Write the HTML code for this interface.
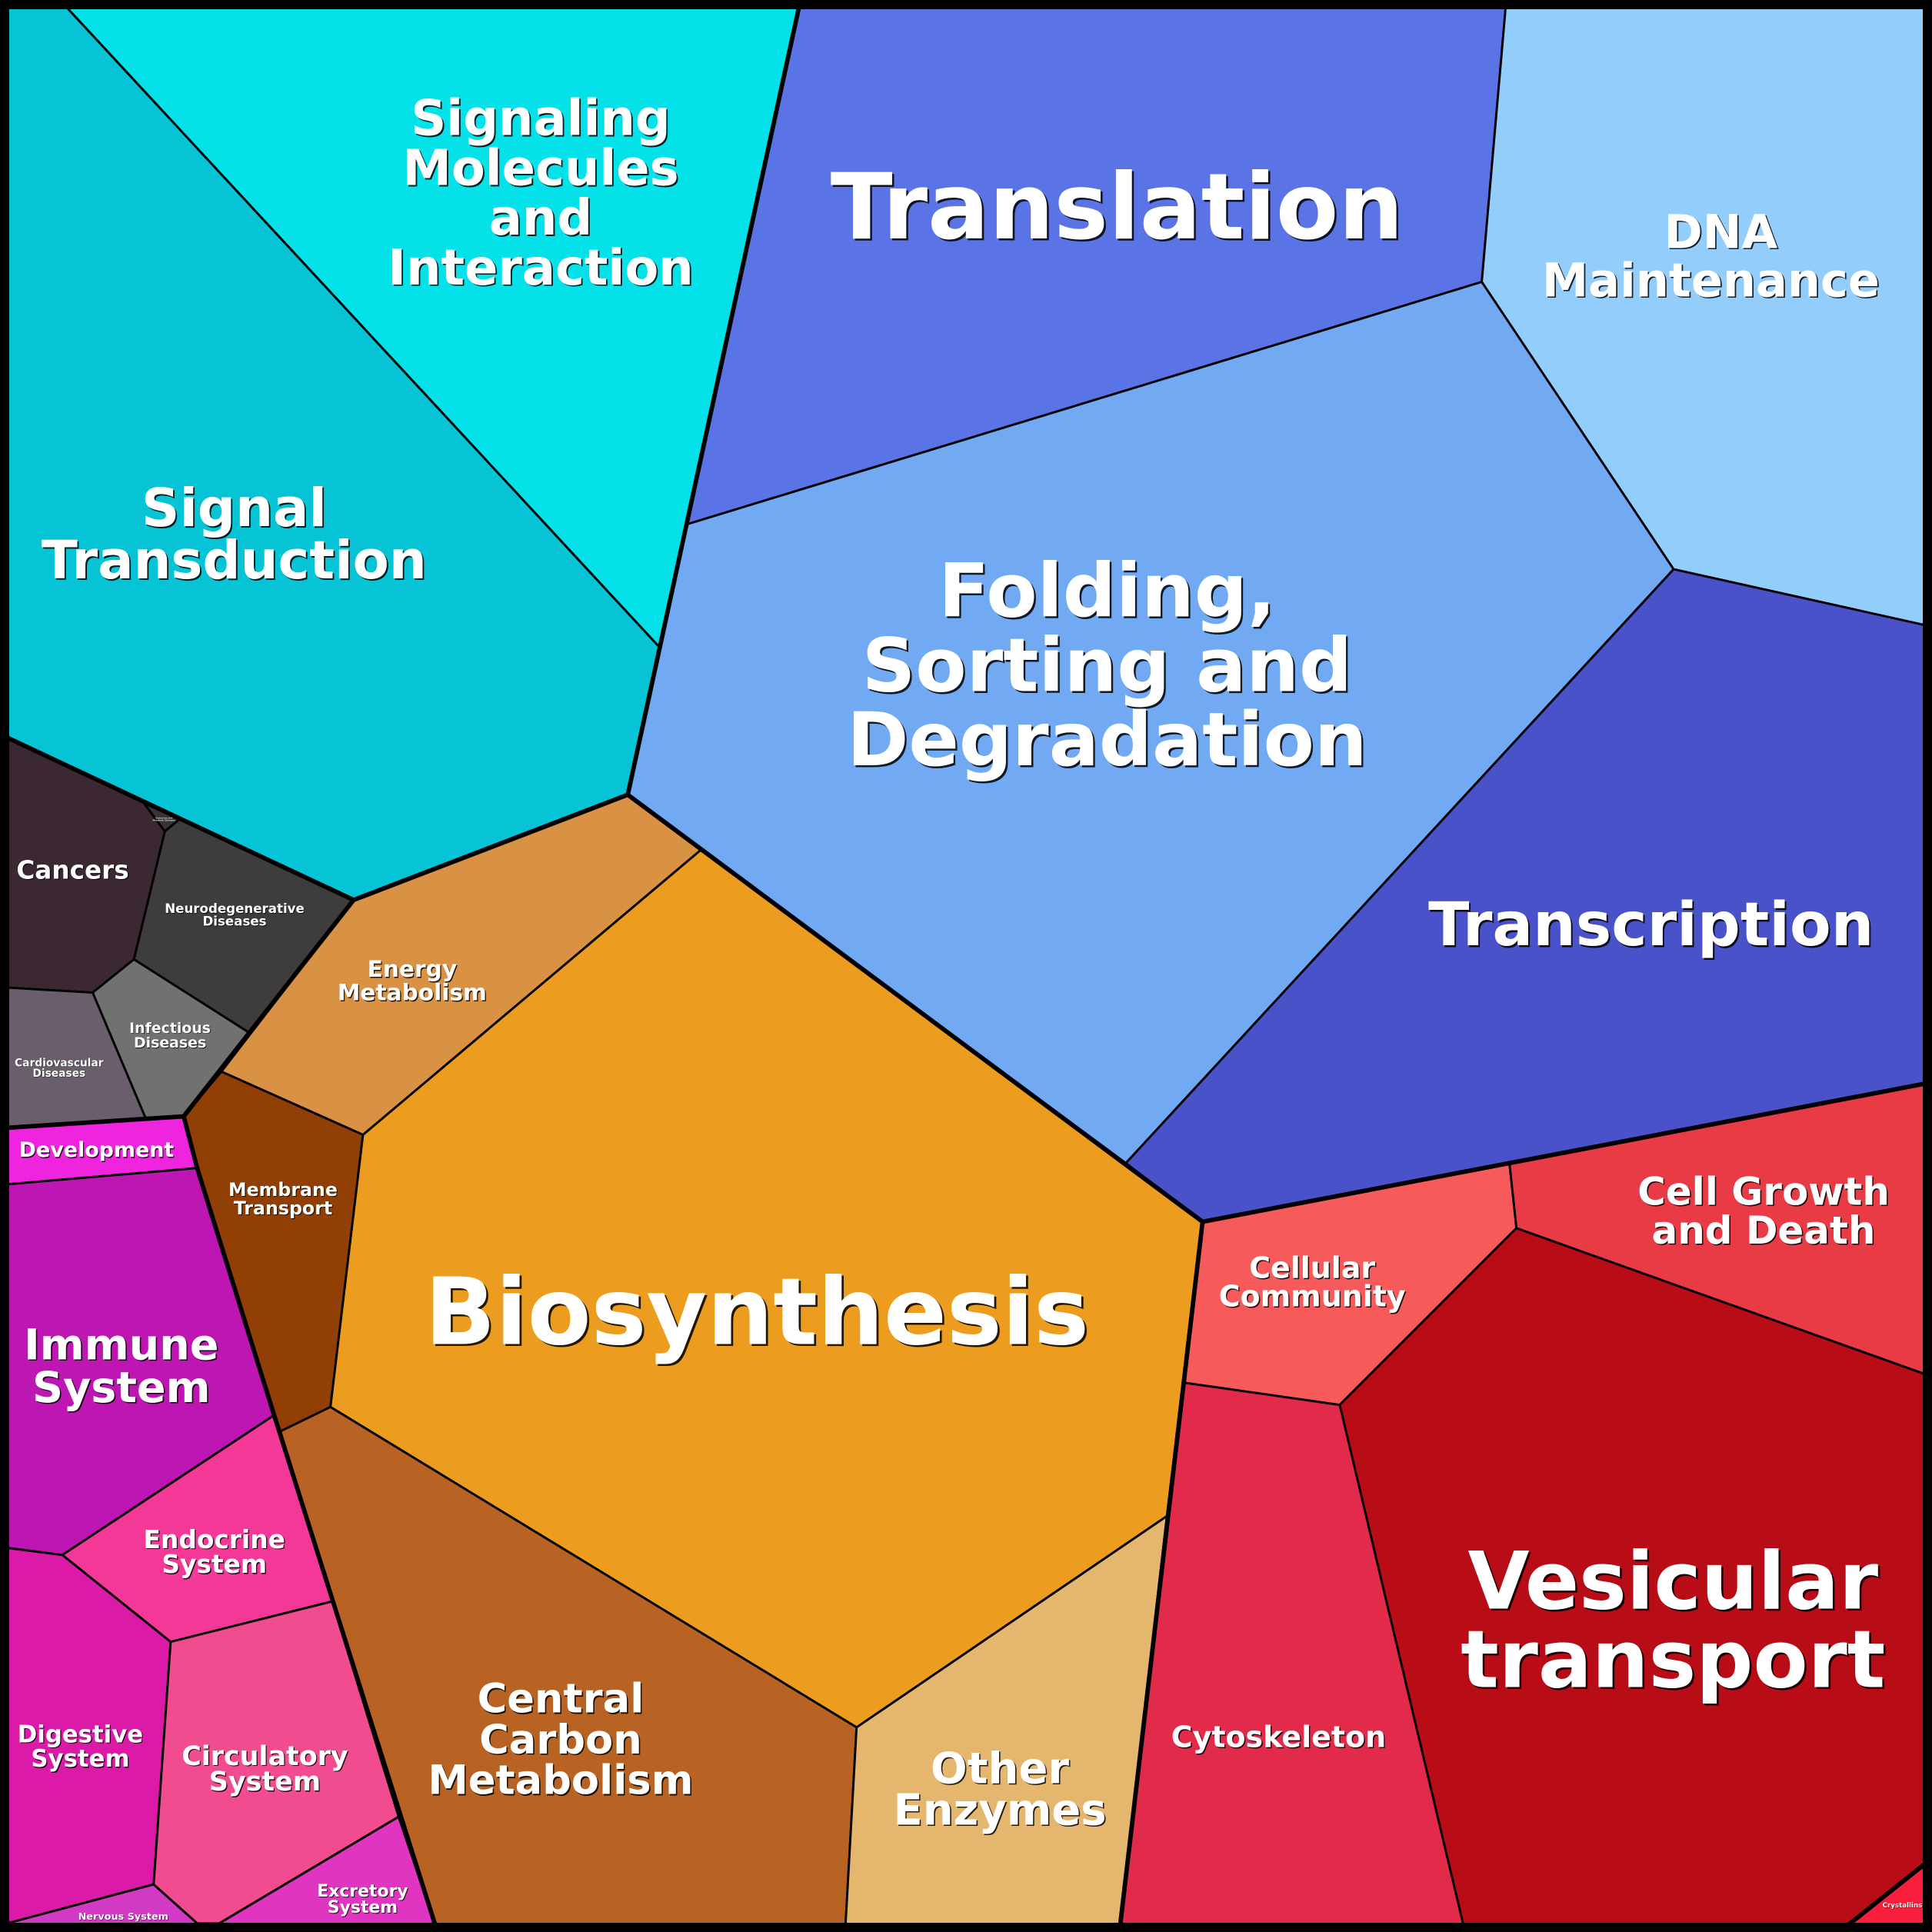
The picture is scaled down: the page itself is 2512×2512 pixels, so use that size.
<!DOCTYPE html>
<html><head><meta charset="utf-8"><style>
html,body{margin:0;padding:0;background:#000;overflow:hidden}
svg{display:block}
text{font-family:"DejaVu Sans","Liberation Sans",sans-serif;font-weight:bold;text-anchor:middle}
.s{fill:#000;fill-opacity:.85}
.w{fill:#fff}
</style></head><body>
<svg xmlns="http://www.w3.org/2000/svg" width="2512" height="2512" viewBox="0 0 1568 1568">
<g stroke="#000" stroke-width="1.8" stroke-linejoin="round">
<polygon fill="#06c4d6" points="0,0 48.6,0 535.5,525.5 509.5,645 287,730.4 0,595.9"/>
<polygon fill="#04e1e8" points="48.6,0 649.7,0 535.5,525.5"/>
<polygon fill="#5a74e6" points="649.7,0 1222.5,0 1202.6,228.8 557.2,425.6"/>
<polygon fill="#93cdfc" points="1222.5,0 1568,0 1568,508.6 1358.3,462 1202.6,228.8"/>
<polygon fill="#72a9f3" points="557.2,425.6 1202.6,228.8 1358.3,462 913.7,944 509.5,645"/>
<polygon fill="#4a52c9" points="1358.3,462 1568,508.6 1568,878.4 976,991.6 913.7,944"/>
<polygon fill="#e93b46" points="1225,944 1568,878.4 1568,1117.3 1230.7,996.8"/>
<polygon fill="#f65a5a" points="976,991.6 1225,944 1230.7,996.8 1087.3,1140.2 961,1122.2"/>
<polygon fill="#b80c17" points="1230.7,996.8 1568,1117.3 1568,1508.1 1492.8,1568 1189,1568 1087.3,1140.2"/>
<polygon fill="#e22b4a" points="961,1122.2 1087.3,1140.2 1189,1568 908.5,1568 947,1230.5"/>
<polygon fill="#f81e3c" points="1492.8,1568 1568,1508.1 1568,1568"/>
<polygon fill="#d99143" points="509.5,645 569.3,689.4 294.6,921 179.7,869.7 287,730.4"/>
<polygon fill="#913f04" points="179.7,869.7 294.6,921 268.2,1141.9 227.5,1161.7 222.5,1148.6 160,948 149.1,906"/>
<polygon fill="#ec9c1e" points="569.3,689.4 976,991.6 947,1230.5 695.2,1401.9 268.2,1141.9 294.6,921"/>
<polygon fill="#b86324" points="268.2,1141.9 695.2,1401.9 685.9,1568 355,1568 227.5,1161.7"/>
<polygon fill="#e5b66e" points="695.2,1401.9 947,1230.5 908.5,1568 685.9,1568"/>
<polygon fill="#3c2833" points="0,595.9 115.6,650.1 133.8,674.7 108.7,778.6 75.2,805.6 0,801.2"/>
<polygon fill="#3a3336" points="115.6,650.1 146.3,664.5 133.8,674.7"/>
<polygon fill="#3f3c3e" points="146.3,664.5 287,730.4 202,838 108.7,778.6 133.8,674.7"/>
<polygon fill="#717171" points="75.2,805.6 108.7,778.6 202,838 149.1,906 118.4,908"/>
<polygon fill="#6a5e6c" points="0,801.2 75.2,805.6 118.4,908 0,915.7"/>
<polygon fill="#ee24de" points="0,915.7 149.1,906 160,948 0,961.7"/>
<polygon fill="#be16b3" points="0,961.7 160,948 222.5,1148.6 50.6,1262 0,1255.5"/>
<polygon fill="#f43898" points="50.6,1262 222.5,1148.6 269.6,1299.7 138.5,1332.5"/>
<polygon fill="#dc1aa8" points="0,1255.5 50.6,1262 138.5,1332.5 124.7,1529.4 0,1562.5"/>
<polygon fill="#f04c8f" points="138.5,1332.5 269.6,1299.7 323.5,1474.5 178,1561 160,1561 124.7,1529.4"/>
<polygon fill="#d23ac4" points="0,1562.5 124.7,1529.4 160,1561 160,1568 0,1568"/>
<polygon fill="#e035c0" points="323.5,1474.5 355,1568 170,1568 178,1561"/>
</g>
<g fill="none" stroke="#000" stroke-width="3.6" stroke-linejoin="round" stroke-linecap="round">
<polyline points="649.7,0 509.5,645"/>
<polyline points="0,595.9 287,730.4 509.5,645 976,991.6 1568,878.4"/>
<polyline points="287,730.4 149.1,906 0,915.7"/>
<polyline points="149.1,906 160,948 222.5,1148.6 355,1568"/>
<polyline points="976,991.6 908.5,1568"/>
<polyline points="1492.8,1568 1568,1508.1"/>
</g>
<rect x="0" y="0" width="1568" height="1568" fill="none" stroke="#000" stroke-width="15"/>

<g class="s">
<text transform="translate(1.2,1.2)" font-size="39.9"><tspan x="438.8" y="109.5">Signaling</tspan><tspan x="438.8" y="150.2">Molecules</tspan><tspan x="438.8" y="190.5">and</tspan><tspan x="438.8" y="230.8">Interaction</tspan></text>
<text transform="translate(1.2,1.2)" font-size="42.9"><tspan x="190" y="427">Signal</tspan><tspan x="190" y="469.4">Transduction</tspan></text>
<text transform="translate(1.6,1.6)" font-size="74" x="906.5" y="193.5">Translation</text>
<text transform="translate(1.1,1.1)" font-size="37.8"><tspan x="1396.6" y="201.2">DNA</tspan><tspan x="1388.5" y="240.6">Maintenance</tspan></text>
<text transform="translate(1.5,1.5)" font-size="60.3"><tspan x="898.5" y="500.3">Folding,</tspan><tspan x="898.5" y="561">Sorting and</tspan><tspan x="898.5" y="621.1">Degradation</tspan></text>
<text transform="translate(1.3,1.3)" font-size="48.8" x="1340" y="767.3">Transcription</text>
<text transform="translate(1,1)" font-size="31.2"><tspan x="1431.3" y="977.8">Cell Growth</tspan><tspan x="1431.3" y="1009.3">and Death</tspan></text>
<text transform="translate(0.9,0.9)" font-size="23.7"><tspan x="1065" y="1037">Cellular</tspan><tspan x="1065" y="1060.2">Community</tspan></text>
<text transform="translate(0.9,0.9)" font-size="23.7" x="1037.7" y="1417.9">Cytoskeleton</text>
<text transform="translate(1.6,1.6)" font-size="64.7"><tspan x="1357.8" y="1305.4">Vesicular</tspan><tspan x="1357.8" y="1369.3">transport</tspan></text>
<text transform="translate(0.4,0.4)" font-size="5.4" x="1544" y="1548">Crystallins</text>
<text transform="translate(1.7,1.7)" font-size="75.4" x="614.3" y="1090.7">Biosynthesis</text>
<text transform="translate(1,1)" font-size="32.9"><tspan x="455" y="1389.9">Central</tspan><tspan x="455" y="1423.1">Carbon</tspan><tspan x="455" y="1456.1">Metabolism</tspan></text>
<text transform="translate(1,1)" font-size="35"><tspan x="811.5" y="1447.1">Other</tspan><tspan x="811.5" y="1480.8">Enzymes</tspan></text>
<text transform="translate(0.8,0.8)" font-size="18.5"><tspan x="334.5" y="792.8">Energy</tspan><tspan x="334.5" y="811.8">Metabolism</tspan></text>
<text transform="translate(0.7,0.7)" font-size="14.8"><tspan x="229.7" y="970.7">Membrane</tspan><tspan x="229.7" y="985.5">Transport</tspan></text>
<text transform="translate(0.8,0.8)" font-size="20.4" x="59" y="713.1">Cancers</text>
<text transform="translate(0.5,0.5)" font-size="10.4"><tspan x="190.4" y="741">Neurodegenerative</tspan><tspan x="190.4" y="751.3">Diseases</tspan></text>
<text transform="translate(0.5,0.5)" font-size="11.8"><tspan x="138" y="838.2">Infectious</tspan><tspan x="138" y="850.2">Diseases</tspan></text>
<text transform="translate(0.4,0.4)" font-size="8.6"><tspan x="48" y="865.5">Cardiovascular</tspan><tspan x="48" y="873.9">Diseases</tspan></text>
<text transform="translate(0.7,0.7)" font-size="16.8" x="78.3" y="938.9">Development</text>
<text transform="translate(1,1)" font-size="34.7"><tspan x="98.5" y="1103.2">Immune</tspan><tspan x="98.5" y="1137.9">System</tspan></text>
<text transform="translate(0.8,0.8)" font-size="20.5"><tspan x="174" y="1256.4">Endocrine</tspan><tspan x="174" y="1276.6">System</tspan></text>
<text transform="translate(0.8,0.8)" font-size="19.2"><tspan x="65.2" y="1414.1">Digestive</tspan><tspan x="65.2" y="1433.8">System</tspan></text>
<text transform="translate(0.8,0.8)" font-size="21.8"><tspan x="215" y="1432.5">Circulatory</tspan><tspan x="215" y="1453.3">System</tspan></text>
<text transform="translate(0.6,0.6)" font-size="13.7"><tspan x="294.3" y="1539.4">Excretory</tspan><tspan x="294.3" y="1552.4">System</tspan></text>
<text transform="translate(0.4,0.4)" font-size="8" x="100.1" y="1558">Nervous System</text>
</g>
<g class="w">
<text font-size="39.9"><tspan x="438.8" y="109.5">Signaling</tspan><tspan x="438.8" y="150.2">Molecules</tspan><tspan x="438.8" y="190.5">and</tspan><tspan x="438.8" y="230.8">Interaction</tspan></text>
<text font-size="42.9"><tspan x="190" y="427">Signal</tspan><tspan x="190" y="469.4">Transduction</tspan></text>
<text font-size="74" x="906.5" y="193.5">Translation</text>
<text font-size="37.8"><tspan x="1396.6" y="201.2">DNA</tspan><tspan x="1388.5" y="240.6">Maintenance</tspan></text>
<text font-size="60.3"><tspan x="898.5" y="500.3">Folding,</tspan><tspan x="898.5" y="561">Sorting and</tspan><tspan x="898.5" y="621.1">Degradation</tspan></text>
<text font-size="48.8" x="1340" y="767.3">Transcription</text>
<text font-size="31.2"><tspan x="1431.3" y="977.8">Cell Growth</tspan><tspan x="1431.3" y="1009.3">and Death</tspan></text>
<text font-size="23.7"><tspan x="1065" y="1037">Cellular</tspan><tspan x="1065" y="1060.2">Community</tspan></text>
<text font-size="23.7" x="1037.7" y="1417.9">Cytoskeleton</text>
<text font-size="64.7"><tspan x="1357.8" y="1305.4">Vesicular</tspan><tspan x="1357.8" y="1369.3">transport</tspan></text>
<text font-size="5.4" x="1544" y="1548">Crystallins</text>
<text font-size="75.4" x="614.3" y="1090.7">Biosynthesis</text>
<text font-size="32.9"><tspan x="455" y="1389.9">Central</tspan><tspan x="455" y="1423.1">Carbon</tspan><tspan x="455" y="1456.1">Metabolism</tspan></text>
<text font-size="35"><tspan x="811.5" y="1447.1">Other</tspan><tspan x="811.5" y="1480.8">Enzymes</tspan></text>
<text font-size="18.5"><tspan x="334.5" y="792.8">Energy</tspan><tspan x="334.5" y="811.8">Metabolism</tspan></text>
<text font-size="14.8"><tspan x="229.7" y="970.7">Membrane</tspan><tspan x="229.7" y="985.5">Transport</tspan></text>
<text font-size="20.4" x="59" y="713.1">Cancers</text>
<text font-size="10.4"><tspan x="190.4" y="741">Neurodegenerative</tspan><tspan x="190.4" y="751.3">Diseases</tspan></text>
<text font-size="11.8"><tspan x="138" y="838.2">Infectious</tspan><tspan x="138" y="850.2">Diseases</tspan></text>
<text font-size="8.6"><tspan x="48" y="865.5">Cardiovascular</tspan><tspan x="48" y="873.9">Diseases</tspan></text>
<text font-size="16.8" x="78.3" y="938.9">Development</text>
<text font-size="34.7"><tspan x="98.5" y="1103.2">Immune</tspan><tspan x="98.5" y="1137.9">System</tspan></text>
<text font-size="20.5"><tspan x="174" y="1256.4">Endocrine</tspan><tspan x="174" y="1276.6">System</tspan></text>
<text font-size="19.2"><tspan x="65.2" y="1414.1">Digestive</tspan><tspan x="65.2" y="1433.8">System</tspan></text>
<text font-size="21.8"><tspan x="215" y="1432.5">Circulatory</tspan><tspan x="215" y="1453.3">System</tspan></text>
<text font-size="13.7"><tspan x="294.3" y="1539.4">Excretory</tspan><tspan x="294.3" y="1552.4">System</tspan></text>
<text font-size="8" x="100.1" y="1558">Nervous System</text>
<text font-size="1.7" fill="#ddd"><tspan x="133" y="664.6">Endocrine and</tspan><tspan x="133" y="666.4">Metabolic Diseases</tspan></text>
</g>
</svg>
</body></html>
